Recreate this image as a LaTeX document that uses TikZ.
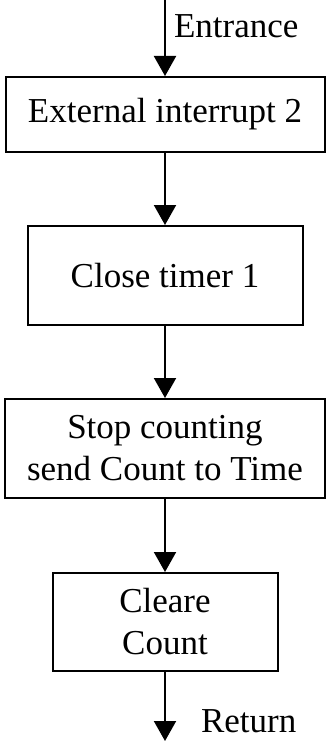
\documentclass[tikz,border=0pt]{standalone}
\usepackage{fontspec}
\setmainfont{Liberation Serif}
\usetikzlibrary{arrows.meta}

\tikzset{
    blk/.style={draw,line width=2pt,fill=white,inner sep=0pt,align=center,font=\fontsize{35}{42}\selectfont},
    lbl/.style={anchor=base west,inner sep=0pt,font=\fontsize{35}{42}\selectfont}
}

\begin{document}
\begin{tikzpicture}[x=1pt,y=1pt,line width=2pt,>={Triangle[length=20pt,width=22pt]}]
    \useasboundingbox(0,0)rectangle(325,-741);
    \coordinate(top)at(165,0);
    \coordinate(bot)at(165,-741);
    \node[blk,minimum width=319,minimum height=75](ext)at(165,-114.5){External interrupt 2};
    \node[blk,minimum width=275,minimum height=99](tmr)at(165,-275.5){Close timer 1};
    \node[blk,minimum width=320,minimum height=99](stp)at(165,-448.5){Stop counting\\send Count to Time};
    \node[blk,minimum width=225,minimum height=98](clr)at(165,-622){Cleare\\Count};
    \node[lbl](entr)at(173,-38){Entrance};
    \node[lbl](ret)at(200,-732){Return};
    \draw[->](top)--(ext.north);
    \draw[->](ext.south)--(tmr.north);
    \draw[->](tmr.south)--(stp.north);
    \draw[->](stp.south)--(clr.north);
    \draw[->](clr.south)--(bot);
\end{tikzpicture}
\end{document}
